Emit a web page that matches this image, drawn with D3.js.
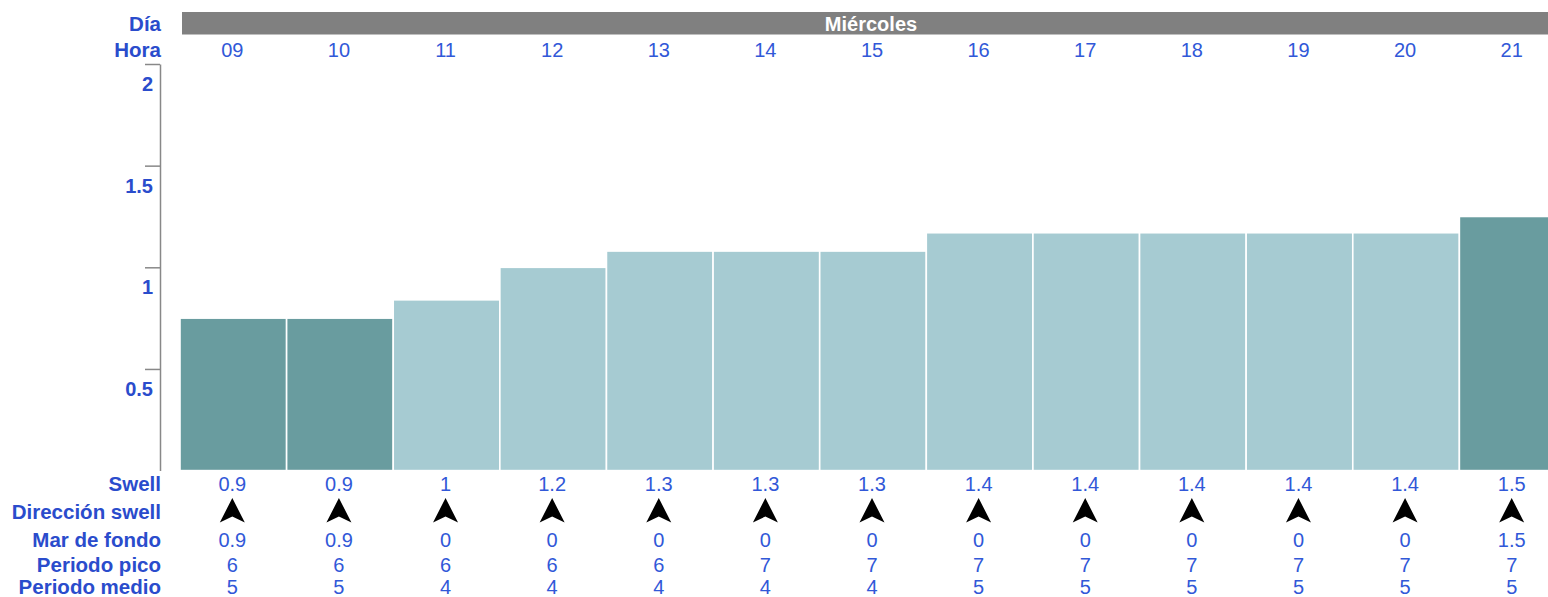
<!DOCTYPE html>
<html lang="es">
<head>
<meta charset="utf-8">
<title>Swell</title>
<style>
  body { margin: 0; background: #fff; }
  svg { display: block; font-family: "Liberation Sans", Arial, sans-serif; }
</style>
</head>
<body>
<svg></svg>
<script src="https://cdn.jsdelivr.net/npm/d3@7"></script>
<script>
// datos
var dia = 'Miércoles';
var horas = ['09', '10', '11', '12', '13', '14', '15', '16', '17', '18', '19', '20', '21'];
var alturaBarra = [0.75, 0.75, 0.84, 1.0, 1.08, 1.08, 1.08, 1.17, 1.17, 1.17, 1.17, 1.17, 1.25];
var swell = ['0.9', '0.9', '1', '1.2', '1.3', '1.3', '1.3', '1.4', '1.4', '1.4', '1.4', '1.4', '1.5'];
var direccion = [0, 0, 0, 0, 0, 0, 0, 0, 0, 0, 0, 0, 0];
var marFondo = ['0.9', '0.9', '0', '0', '0', '0', '0', '0', '0', '0', '0', '0', '1.5'];
var periodoPico = ['6', '6', '6', '6', '6', '7', '7', '7', '7', '7', '7', '7', '7'];
var periodoMedio = ['5', '5', '4', '4', '4', '4', '4', '5', '5', '5', '5', '5', '5'];
var yTicks = [0.5, 1, 1.5, 2];

var width = 1548, height = 597;
var azul = '#3158d8';
var azulLabel = '#2a4ccc';

var svg = d3.select('svg').attr('width', width).attr('height', height);

var x = d3.scaleBand().domain(horas).range([180, 1566]).paddingInner(0);
var y = d3.scaleLinear().domain([0, 2]).range([470.6, 64]);

// cabecera dia
svg.append('rect')
  .attr('x', 182).attr('y', 12)
  .attr('width', width - 182).attr('height', 22.5)
  .attr('fill', '#808080');
svg.append('text')
  .attr('x', (x.range()[0] + x.range()[1]) / 2 - 2).attr('y', 30.5)
  .attr('text-anchor', 'middle')
  .attr('fill', '#fff').attr('font-size', 20).attr('font-weight', 'bold')
  .text(dia);

// etiquetas de filas (izquierda)
var filas = [
  ['Día', 31], ['Hora', 57], ['Swell', 491], ['Dirección swell', 519],
  ['Mar de fondo', 547], ['Periodo pico', 571.5], ['Periodo medio', 594]
];
svg.selectAll('text.fila')
  .data(filas)
  .enter().append('text')
  .attr('class', 'fila')
  .attr('x', 161).attr('y', function(d) { return d[1]; })
  .attr('text-anchor', 'end')
  .attr('fill', azulLabel).attr('font-size', 20.5).attr('font-weight', 'bold')
  .text(function(d) { return d[0]; });

// barras
svg.selectAll('rect.barra')
  .data(horas)
  .enter().append('rect')
  .attr('class', 'barra')
  .attr('x', function(d) { return x(d); })
  .attr('width', x.bandwidth())
  .attr('y', function(d, i) { return y(alturaBarra[i]); })
  .attr('height', function(d, i) { return y(0) - y(alturaBarra[i]); })
  .attr('fill', function(d, i) { return +marFondo[i] > 0 ? '#699c9f' : '#a6cbd2'; })
  .attr('stroke', '#fff').attr('stroke-width', 1.6);

// eje y
var eje = svg.append('g')
  .attr('transform', 'translate(160,0)')
  .call(d3.axisLeft(y).tickValues(yTicks).tickFormat(d3.format('~g'))
    .tickSize(15).tickSizeOuter(0));
eje.select('.domain').attr('stroke', '#888').attr('stroke-width', 1.5);
eje.selectAll('.tick line').attr('stroke', '#888').attr('stroke-width', 1.5);
eje.selectAll('.tick text')
  .attr('x', -7).attr('dy', '1.33em')
  .attr('fill', azulLabel).attr('font-size', 20).attr('font-weight', 'bold')
  .attr('font-family', '"Liberation Sans", Arial, sans-serif');

// filas de valores
function filaValores(valores, yBase) {
  svg.append('g').selectAll('text')
    .data(valores)
    .enter().append('text')
    .attr('x', function(d, i) { return x(horas[i]) + x.bandwidth() / 2 - 1; })
    .attr('y', yBase)
    .attr('text-anchor', 'middle')
    .attr('fill', azul).attr('font-size', 20)
    .text(function(d) { return d; });
}
filaValores(horas, 57);
filaValores(swell, 491);
filaValores(marFondo, 547);
filaValores(periodoPico, 571.5);
filaValores(periodoMedio, 594);

// flechas de direccion
svg.append('g').selectAll('path')
  .data(direccion)
  .enter().append('path')
  .attr('d', 'M0,-12.5 L12.5,12 L0,6 L-12.5,12 Z')
  .attr('fill', '#000')
  .attr('transform', function(d, i) {
    return 'translate(' + (x(horas[i]) + x.bandwidth() / 2 - 1) + ',510.5) rotate(' + d + ')';
  });
</script>
</body>
</html>
